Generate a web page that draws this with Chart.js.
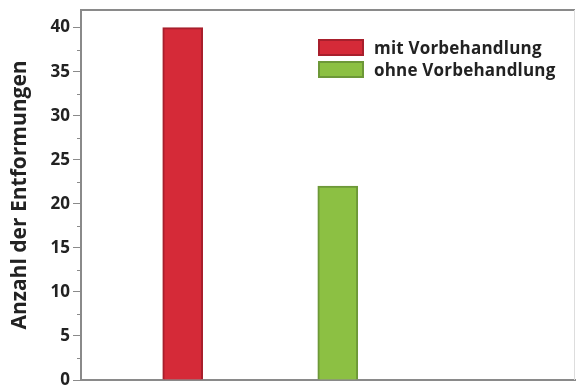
<!DOCTYPE html>
<html lang="de">
<head>
  <meta charset="UTF-8" />
  <title>Anzahl der Entformungen</title>
  <script src="https://cdn.jsdelivr.net/npm/chart.js"></script>
  <style>
    html, body { margin: 0; padding: 0; background: #fff; }
    body { font-family: 'Open Sans', 'DejaVu Sans', sans-serif; }
    #wrap { position: relative; width: 576px; height: 385px; }
    #legend { position: absolute; left: 318px; top: 36px; font-weight: bold; font-size: 17px; letter-spacing: 0.2px; color: #222; }
    #legend div { display: flex; align-items: center; height: 22px; }
    #legend span.box { display: inline-block; width: 46px; height: 17px; margin-right: 10px; box-sizing: border-box; border: 2px solid; }
  </style>
</head>
<body>
  <div id="wrap">
    <canvas id="c" width="576" height="385"></canvas>
    <div id="legend"></div>
  </div>
  <script>
    // data
    const seriesLabels = ['mit Vorbehandlung', 'ohne Vorbehandlung'];
    const seriesValues = [40, 22];
    const xPositions = [1, 2];
    const yTicks = [0, 5, 10, 15, 20, 25, 30, 35, 40];
    const yTitle = 'Anzahl der Entformungen';
    const fills = ['#d52a38', '#8cc043'];
    const edges = ['#a81f2c', '#6d9838'];

    const datasets = seriesLabels.map((lab, i) => ({
      label: lab,
      data: [{ x: xPositions[i], y: seriesValues[i] }],
      backgroundColor: fills[i],
      borderColor: edges[i],
      borderWidth: 2,
      borderSkipped: 'bottom',
      barThickness: 40,
      grouped: false
    }));

    // top frame line, faint right edge, minor ticks on y
    const frame = {
      id: 'frame',
      afterDraw(chart) {
        const { ctx, chartArea: a, scales: { y } } = chart;
        ctx.save();
        ctx.strokeStyle = '#8a8a8a';
        ctx.lineWidth = 2;
        ctx.beginPath();
        ctx.moveTo(a.left, a.top);
        ctx.lineTo(a.right, a.top);
        ctx.stroke();
        ctx.strokeStyle = '#ddd';
        ctx.lineWidth = 1;
        ctx.beginPath();
        ctx.moveTo(a.right - 0.5, a.top);
        ctx.lineTo(a.right - 0.5, a.bottom);
        ctx.stroke();
        ctx.strokeStyle = '#8a8a8a';
        for (let v = 2.5; v < 42; v += 5) {
          const py = Math.round(y.getPixelForValue(v)) + 0.5;
          ctx.beginPath();
          ctx.moveTo(a.left - 4, py);
          ctx.lineTo(a.left, py);
          ctx.stroke();
        }
        ctx.restore();
      }
    };

    new Chart(document.getElementById('c'), {
      type: 'bar',
      data: { datasets },
      options: {
        responsive: false,
        animation: false,
        layout: { padding: { top: 10, right: 1, bottom: 0, left: 0 } },
        plugins: { legend: { display: false }, tooltip: { enabled: false } },
        scales: {
          x: {
            type: 'linear',
            offset: false,
            min: 0.344,
            max: 3.53,
            afterFit(s) { s.height = 5; s.paddingLeft = 0; s.paddingRight = 0; },
            ticks: { display: false },
            grid: { display: false },
            border: { display: true, color: '#8a8a8a', width: 2 }
          },
          y: {
            min: 0,
            max: 42,
            afterFit(s) { s.width = 81; s.paddingTop = 0; s.paddingBottom = 0; },
            afterBuildTicks(s) {
              s.ticks = yTicks.map(v => ({ value: v }));
            },
            ticks: {
              color: '#222',
              padding: 3,
              font: { family: "'Open Sans', sans-serif", size: 17, weight: 'bold' }
            },
            grid: { drawOnChartArea: false, tickLength: 8, color: '#8a8a8a' },
            border: { display: true, color: '#8a8a8a', width: 2 },
            title: {
              display: true,
              text: yTitle,
              color: '#222',
              padding: { top: 7, bottom: 0 },
              font: { family: "'Open Sans', sans-serif", size: 21, weight: 'bold' }
            }
          }
        }
      },
      plugins: [frame]
    });

    const lg = document.getElementById('legend');
    seriesLabels.forEach((lab, i) => {
      const row = document.createElement('div');
      const box = document.createElement('span');
      box.className = 'box';
      box.style.background = fills[i];
      box.style.borderColor = edges[i];
      row.appendChild(box);
      row.appendChild(document.createTextNode(lab));
      lg.appendChild(row);
    });
  </script>
</body>
</html>
